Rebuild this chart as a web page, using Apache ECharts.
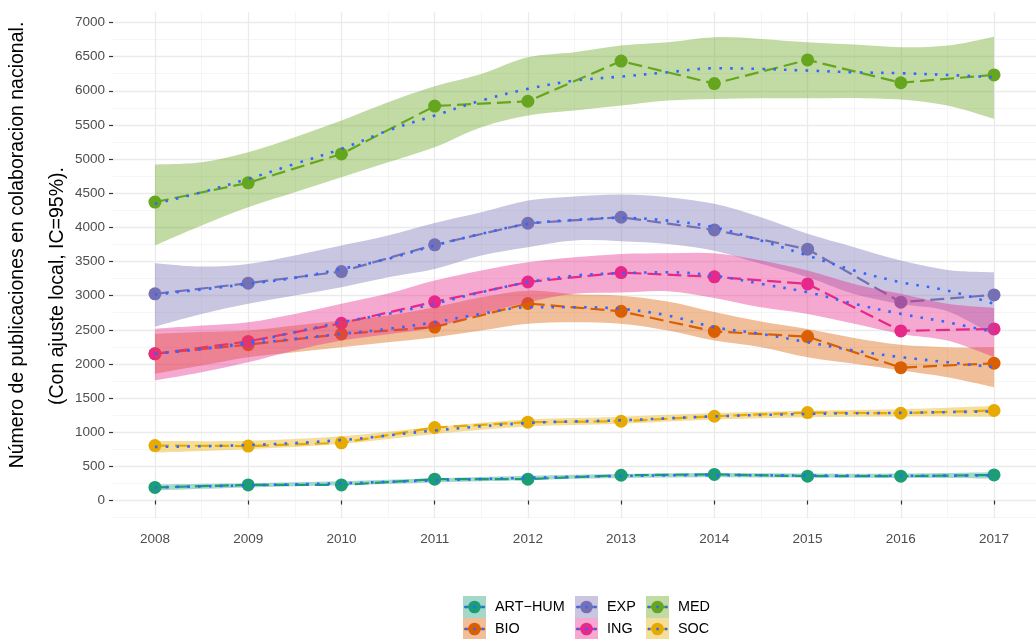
<!DOCTYPE html>
<html><head><meta charset="utf-8">
<script src="https://cdn.jsdelivr.net/npm/echarts@6/dist/echarts.min.js"></script>
<style>html,body{margin:0;padding:0;background:#fff}#c{width:1036px;height:639px}</style>
</head><body><div id="c"></div>
<script>
// ---- data ----
const years = [2008, 2009, 2010, 2011, 2012, 2013, 2014, 2015, 2016, 2017];
const halfYears = [2008, 2008.5, 2009, 2009.5, 2010, 2010.5, 2011, 2011.5, 2012, 2012.5, 2013, 2013.5, 2014, 2014.5, 2015, 2015.5, 2016, 2016.5, 2017];
const xTicks = [2008, 2009, 2010, 2011, 2012, 2013, 2014, 2015, 2016, 2017];
const xMinor = [2008.5, 2009.5, 2010.5, 2011.5, 2012.5, 2013.5, 2014.5, 2015.5, 2016.5];
const yTicks = [0, 500, 1000, 1500, 2000, 2500, 3000, 3500, 4000, 4500, 5000, 5500, 6000, 6500, 7000];
const yMinor = [-250, 250, 750, 1250, 1750, 2250, 2750, 3250, 3750, 4250, 4750, 5250, 5750, 6250, 6750];
const groups = ['ART−HUM', 'BIO', 'EXP', 'ING', 'MED', 'SOC'];

// observed values
const artHum = [192, 228, 228, 312, 313, 370, 382, 356, 356, 374];
const bio = [2150, 2282, 2438, 2540, 2885, 2770, 2476, 2400, 1945, 2010];
const exp = [3026, 3182, 3353, 3744, 4060, 4148, 3963, 3680, 2904, 3011];
const ing = [2148, 2330, 2596, 2910, 3200, 3338, 3275, 3172, 2484, 2513];
const med = [4370, 4652, 5075, 5776, 5847, 6435, 6105, 6452, 6118, 6232];
const soc = [805, 797, 845, 1069, 1147, 1161, 1234, 1288, 1278, 1318];

// local fit (loess) and 95% band
const artFit = [193, 222, 252, 295, 332, 360, 372, 366, 362, 368];
const artLo = [148, 190, 222, 265, 302, 330, 342, 336, 330, 323];
const artHi = [238, 254, 282, 325, 362, 390, 402, 396, 394, 413];

const socFit = [785, 812, 885, 1025, 1135, 1175, 1232, 1268, 1284, 1305];
const socLo = [700, 750, 830, 975, 1085, 1125, 1185, 1220, 1230, 1225];
const socHi = [870, 875, 940, 1075, 1185, 1225, 1280, 1315, 1338, 1385];

const bioFit = [2148, 2218, 2294, 2367, 2440, 2514, 2611, 2733, 2830, 2830, 2807, 2709, 2538, 2440, 2318, 2196, 2099, 2025, 1952];
const bioLo = [1856, 1976, 2099, 2172, 2245, 2318, 2392, 2489, 2587, 2611, 2587, 2489, 2343, 2245, 2099, 2001, 1903, 1805, 1659];
const bioHi = [2440, 2466, 2489, 2562, 2635, 2710, 2830, 2977, 3073, 3020, 3000, 2915, 2760, 2620, 2510, 2380, 2280, 2245, 2245];

const expFit = [3016, 3090, 3172, 3260, 3392, 3538, 3734, 3905, 4051, 4110, 4139, 4099, 4001, 3807, 3587, 3367, 3196, 3075, 2880];
const expLo = [2548, 2733, 2880, 3001, 3123, 3270, 3392, 3587, 3709, 3807, 3798, 3757, 3658, 3466, 3269, 3025, 2878, 2773, 2417];
const expHi = [3475, 3426, 3465, 3587, 3734, 3880, 4065, 4221, 4392, 4451, 4480, 4441, 4344, 4148, 3905, 3709, 3514, 3377, 3343];

const ingFit = [2148, 2221, 2318, 2465, 2611, 2733, 2880, 3050, 3196, 3294, 3328, 3343, 3294, 3172, 3050, 2880, 2733, 2611, 2465];
const ingLo = [1760, 1880, 2025, 2197, 2342, 2436, 2539, 2733, 2903, 3026, 3045, 3065, 2967, 2830, 2733, 2588, 2440, 2342, 2100];
const ingHi = [2514, 2562, 2611, 2733, 2880, 3030, 3221, 3367, 3489, 3562, 3611, 3621, 3621, 3514, 3367, 3172, 3026, 2880, 2820];

const medFit = [4344, 4514, 4710, 4929, 5149, 5417, 5637, 5857, 6028, 6149, 6208, 6271, 6330, 6320, 6296, 6271, 6257, 6232, 6198];
const medLo = [3734, 4026, 4295, 4514, 4734, 4953, 5173, 5466, 5637, 5710, 5783, 5857, 5881, 5890, 5890, 5895, 5871, 5783, 5588];
const medHi = [4920, 4953, 5100, 5319, 5564, 5832, 6066, 6247, 6490, 6564, 6662, 6710, 6784, 6760, 6710, 6676, 6637, 6662, 6793];

// ---- styling ----
const colors = ['#1B9E77', '#D95F02', '#7570B3', '#E7298A', '#66A61E', '#E6AB02'];
const FONT = '"Liberation Sans", Arial, sans-serif';

const obs = [artHum, bio, exp, ing, med, soc];
const fitX = [years, halfYears, halfYears, halfYears, halfYears, years];
const fits = [artFit, bioFit, expFit, ingFit, medFit, socFit];
const los = [artLo, bioLo, expLo, ingLo, medLo, socLo];
const his = [artHi, bioHi, expHi, ingHi, medHi, socHi];

function rgba(hex, a) {
  const n = parseInt(hex.slice(1), 16);
  return `rgba(${(n >> 16) & 255},${(n >> 8) & 255},${n & 255},${a})`;
}
const pair = (xs, ys) => xs.map((x, i) => [x, ys[i]]);

// Catmull-Rom -> cubic bezier path segments through screen points
function curve(pts) {
  let d = '';
  for (let k = 0; k < pts.length - 1; k++) {
    const p0 = pts[k - 1] || pts[k], p1 = pts[k], p2 = pts[k + 1], p3 = pts[k + 2] || pts[k + 1];
    const c1x = p1[0] + (p2[0] - p0[0]) / 6, c1y = p1[1] + (p2[1] - p0[1]) / 6;
    const c2x = p2[0] - (p3[0] - p1[0]) / 6, c2y = p2[1] - (p3[1] - p1[1]) / 6;
    d += ` C${c1x} ${c1y} ${c2x} ${c2y} ${p2[0]} ${p2[1]}`;
  }
  return d;
}

const series = [];
const major = { color: '#EBEBEB', width: 1.3, type: 'solid' };
const minor = { color: '#F0F0F0', width: 0.7, type: 'solid' };
series.push({
  type: 'line', data: [[2008, 0]], symbol: 'none', silent: true, z: 0,
  lineStyle: { opacity: 0 },
  markLine: {
    silent: true, z: 0, symbol: ['none', 'none'], label: { show: false }, animation: false,
    emphasis: { disabled: true },
    data: [
      ...xMinor.map(v => ({ xAxis: v, lineStyle: minor })),
      ...yMinor.map(v => ({ yAxis: v, lineStyle: minor })),
      ...xTicks.map(v => ({ xAxis: v, lineStyle: major })),
      ...yTicks.map(v => ({ yAxis: v, lineStyle: major }))
    ]
  }
});

// observed points + dashed lines
groups.forEach((g, i) => {
  series.push({
    name: g, type: 'line', data: pair(years, obs[i]), z: 2,
    symbol: 'circle', symbolSize: 13, showSymbol: true,
    itemStyle: { color: colors[i] },
    lineStyle: { color: colors[i], width: 2.2, type: [14, 6] },
    emphasis: { disabled: true }
  });
});

// ribbons + local fits
groups.forEach((g, i) => {
  const xs = fitX[i], lo = los[i], hi = his[i];
  series.push({
    type: 'custom', data: [[xs[0], lo[0]]], z: 3, silent: true,
    renderItem: (params, api) => {
      const up = xs.map((x, k) => api.coord([x, hi[k]]));
      const dn = xs.map((x, k) => api.coord([x, lo[k]])).reverse();
      const d = `M${up[0][0]} ${up[0][1]}` + curve(up) + ` L${dn[0][0]} ${dn[0][1]}` + curve(dn) + ' Z';
      return { type: 'path', shape: { pathData: d }, style: { fill: rgba(colors[i], 0.4) } };
    }
  });
  series.push({
    type: 'line', data: pair(xs, fits[i]), smooth: 0.35,
    symbol: 'none', silent: true, z: 3,
    lineStyle: { color: '#3366FF', width: 2.6, type: [2.6, 8.2], cap: 'butt' }
  });
});

// legend (drawn as graphic keys)
const legendCols = [463, 575, 646];
const legendRows = [596, 618];
const legendGraphic = [];
groups.forEach((g, i) => {
  const cx = legendCols[Math.floor(i / 2)], cy = legendRows[i % 2];
  legendGraphic.push({ type: 'rect', shape: { x: cx, y: cy, width: 23, height: 22 }, style: { fill: rgba(colors[i], 0.4) }, silent: true });
  legendGraphic.push({ type: 'line', shape: { x1: cx + 1, y1: cy + 11, x2: cx + 22, y2: cy + 11 }, style: { stroke: colors[i], lineWidth: 2.2 }, silent: true });
  legendGraphic.push({ type: 'circle', shape: { cx: cx + 11.5, cy: cy + 11, r: 6.3 }, style: { fill: colors[i] }, silent: true });
  legendGraphic.push({ type: 'line', shape: { x1: cx + 2, y1: cy + 11, x2: cx + 22, y2: cy + 11 }, style: { stroke: '#3366FF', lineWidth: 2.4, lineDash: [2.4, 6] }, silent: true });
  legendGraphic.push({ type: 'text', x: cx + 32, y: cy + 11, style: { text: g, font: '14.4px ' + FONT, fill: '#000', align: 'left', verticalAlign: 'middle', textAlign: 'left', textVerticalAlign: 'middle' }, silent: true });
});

const titleGraphic = [
  { type: 'text', x: 18, y: 245, rotation: Math.PI / 2, style: { text: 'Número de publicaciones en colaboracion nacional.', font: '19.5px ' + FONT, fill: '#000', align: 'center', verticalAlign: 'middle', textAlign: 'center', textVerticalAlign: 'middle' }, silent: true },
  { type: 'text', x: 58, y: 286, rotation: Math.PI / 2, style: { text: '(Con ajuste local, IC=95%).', font: '19.5px ' + FONT, fill: '#000', align: 'center', verticalAlign: 'middle', textAlign: 'center', textVerticalAlign: 'middle' }, silent: true }
];

const chart = echarts.init(document.getElementById('c'), null, { renderer: 'canvas' });
chart.setOption({
  animation: false,
  backgroundColor: '#fff',
  grid: { left: 113, top: 12.25, width: 932.4, height: 506.15, containLabel: false },
  xAxis: {
    type: 'value', min: 2007.55, max: 2017.45,
    axisLine: { show: false },
    axisTick: { show: true, customValues: xTicks, length: 4, lineStyle: { color: '#333', width: 1.2 } },
    axisLabel: { customValues: xTicks, formatter: v => String(v), color: '#4D4D4D', fontSize: 13.5, fontFamily: FONT, margin: 14 },
    splitLine: { show: false }, minorSplitLine: { show: false }
  },
  yAxis: {
    type: 'value', min: -262, max: 7150,
    axisLine: { show: false },
    axisTick: { show: true, customValues: yTicks, length: 4, lineStyle: { color: '#333', width: 1.2 } },
    axisLabel: { customValues: yTicks, formatter: v => String(v), color: '#4D4D4D', fontSize: 13.5, fontFamily: FONT, margin: 8 },
    splitLine: { show: false }
  },
  series: series,
  graphic: [...titleGraphic, ...legendGraphic]
});
</script></body></html>
